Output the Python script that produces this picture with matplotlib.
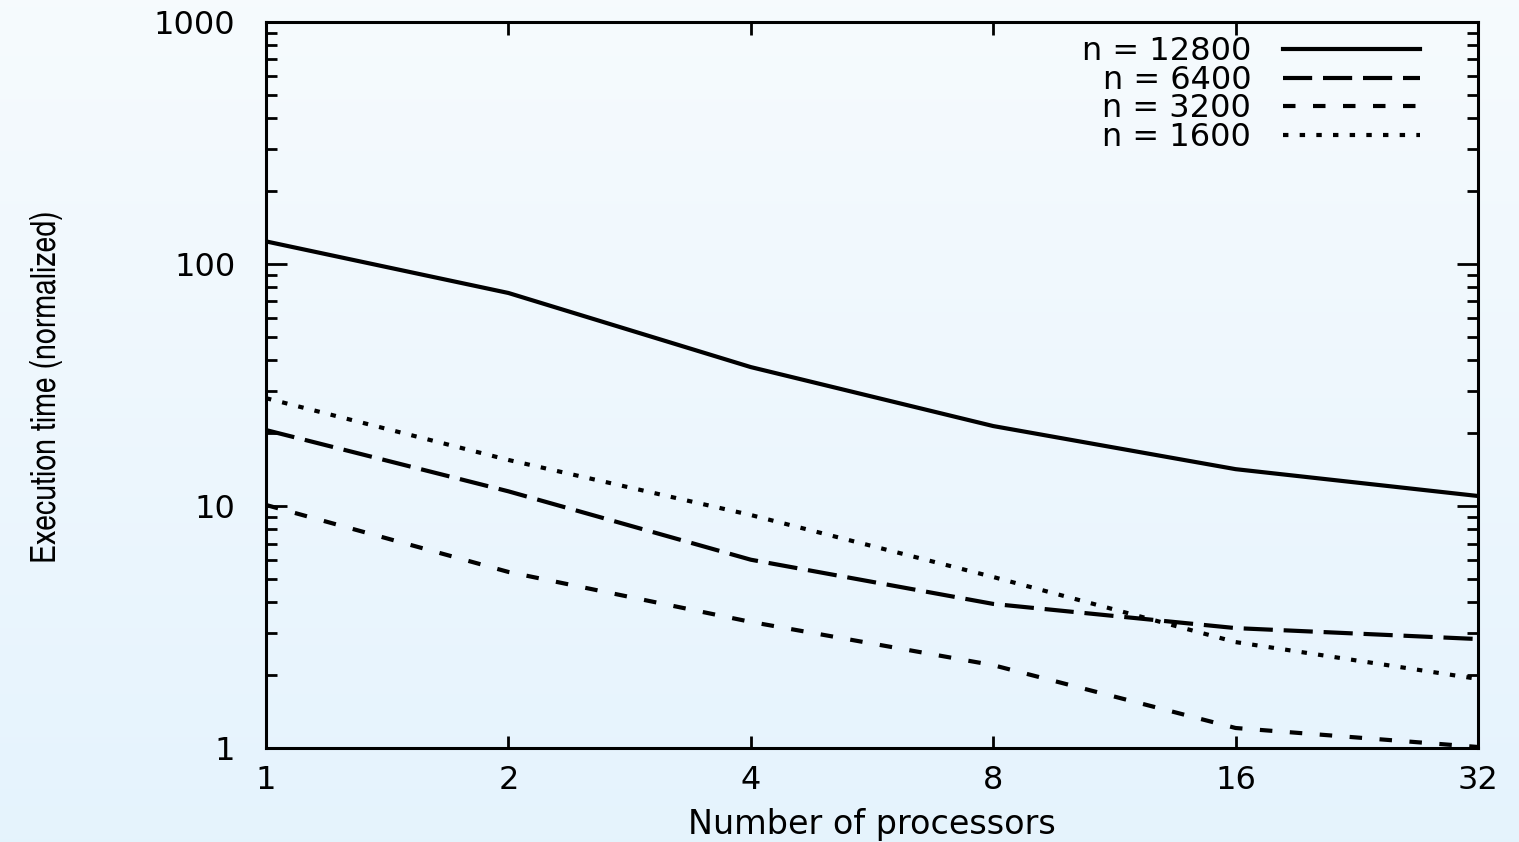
import numpy as np
import matplotlib.pyplot as plt
from matplotlib.ticker import FixedLocator, FixedFormatter, LogLocator, NullFormatter

procs = [1, 2, 4, 8, 16, 32]
t_12800 = [124, 75.9, 37.5, 21.4, 14.2, 11.0]
t_6400 = [20.6, 11.5, 6.0, 3.94, 3.13, 2.82]
t_3200 = [10.1, 5.34, 3.32, 2.20, 1.21, 1.01]
t_1600 = [27.9, 15.5, 9.18, 5.09, 2.74, 1.93]
labels = ['n = 12800', 'n = 6400', 'n = 3200', 'n = 1600']

x_ticks = [1, 2, 4, 8, 16, 32]
y_ticks = [1, 10, 100, 1000]

plt.rcParams['font.family'] = ['DejaVu Sans']

fig = plt.figure(figsize=(15.19, 8.42), dpi=100)

# light blue vertical gradient behind everything
bg = fig.add_axes([0, 0, 1, 1], zorder=-10)
grad = np.linspace(0, 1, 256).reshape(-1, 1)
top_c = np.array([0.965, 0.984, 0.996])
bot_c = np.array([0.898, 0.953, 0.992])
img = top_c * (1 - grad[..., None]) + bot_c * grad[..., None]
bg.imshow(img, aspect='auto', extent=[0, 1, 0, 1])
bg.axis('off')

ax = fig.add_axes([0.1751, 0.1116, 0.7979, 0.8623])
ax.patch.set_alpha(0)

lw = 3
ax.plot(procs, t_12800, color='black', lw=lw, label=labels[0])
ax.plot(procs, t_6400, color='black', lw=lw, dashes=(7, 2.6), label=labels[1])
ax.plot(procs, t_3200, color='black', lw=lw, dashes=(3, 4.2), label=labels[2])
ax.plot(procs, t_1600, color='black', lw=lw, dashes=(1.3, 2.7), label=labels[3])

ax.set_xscale('log', base=2)
ax.set_yscale('log')
ax.set_xlim(1, 32)
ax.set_ylim(1, 1000)

ax.xaxis.set_major_locator(FixedLocator(x_ticks))
ax.xaxis.set_major_formatter(FixedFormatter([str(v) for v in x_ticks]))
ax.xaxis.set_minor_locator(FixedLocator([]))
ax.yaxis.set_major_locator(FixedLocator(y_ticks))
ax.yaxis.set_major_formatter(FixedFormatter([str(v) for v in y_ticks]))
ax.yaxis.set_minor_locator(LogLocator(base=10, subs=np.arange(2, 10)))
ax.yaxis.set_minor_formatter(NullFormatter())

for s in ax.spines.values():
    s.set_linewidth(2.2)

ax.tick_params(axis='both', which='both', direction='in', top=True, right=True,
               colors='black', labelsize=23)
ax.tick_params(axis='x', which='major', length=9, width=2, pad=12)
ax.tick_params(axis='y', which='major', length=15, width=2, pad=22)
ax.tick_params(axis='y', which='minor', length=8, width=2)

ax.set_xlabel('Number of processors', fontsize=24)
ax.xaxis.set_label_coords(0.5, -0.082)
ax.set_ylabel('Execution time (normalized)', fontsize=25,
              family=['TeX Gyre Heros Cn', 'Liberation Sans'])
ax.yaxis.set_label_coords(-0.1675, 0.497)

leg = ax.legend(loc='upper right', markerfirst=False, frameon=False, fontsize=23,
                handlelength=4.3, handletextpad=1.0, labelspacing=-0.08,
                borderaxespad=0.3, bbox_to_anchor=(0.971, 1.011))

fig.savefig('out.png', dpi=100)
